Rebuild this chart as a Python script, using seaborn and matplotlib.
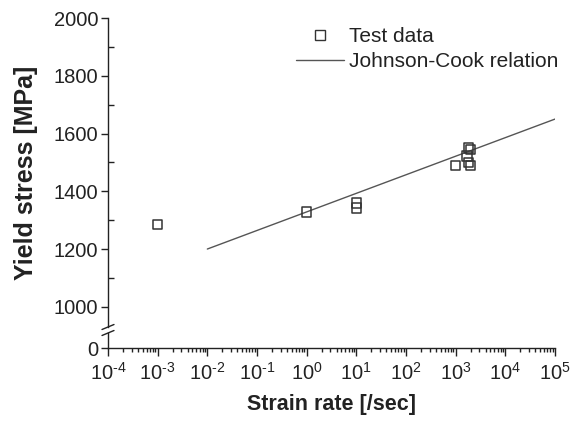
import matplotlib
matplotlib.use("Agg")
import matplotlib.pyplot as plt
import seaborn as sns
import pandas as pd
from matplotlib.lines import Line2D
from matplotlib.ticker import FixedLocator, LogLocator, NullFormatter

# test data
strain_rate = [1e-3, 1e0, 1e1, 1e1, 1e3, 1800, 2000, 1700, 1800, 2000]
yield_stress = [1285, 1328, 1360, 1342, 1490, 1550, 1545, 1522, 1500, 1490]

# Johnson-Cook fit line (straight on log axis)
jc_rate = [1e-2, 1e5]
jc_stress = [1200, 1650]

x_ticks = [1e-4, 1e-3, 1e-2, 1e-1, 1e0, 1e1, 1e2, 1e3, 1e4, 1e5]
x_labels = ["$10^{\\text{-}%d}$" % -p if p < 0 else "$10^{%d}$" % p for p in range(-4, 6)]
y_ticks = [1000, 1200, 1400, 1600, 1800, 2000]

df = pd.DataFrame({"rate": strain_rate, "stress": yield_stress})
jc = pd.DataFrame({"rate": jc_rate, "stress": jc_stress})

sns.set_style("ticks")
plt.rcParams["font.family"] = ["Liberation Sans", "DejaVu Sans"]
plt.rcParams["mathtext.fontset"] = "custom"
plt.rcParams["mathtext.rm"] = "Liberation Sans"
plt.rcParams["mathtext.it"] = "Liberation Sans"

ink = "#222222"
W, H = 581, 421
fig = plt.figure(figsize=(5.81, 4.21), dpi=100)

left = 108 / W
width = (555 - 108) / W
ax = fig.add_axes([left, (H - 327) / H, width, (327 - 18) / H])
axb = fig.add_axes([left, (H - 348) / H, width, (348 - 333) / H], sharex=ax)

sns.lineplot(data=jc, x="rate", y="stress", ax=ax, color="#555555", lw=1.0)
sns.scatterplot(data=df, x="rate", y="stress", ax=ax, marker="s", s=46,
                facecolor="none", edgecolor="#333333", linewidth=1.1, zorder=3)

ax.set_xscale("log")
ax.set_xlim(1e-4, 1e5)
ax.set_ylim(930, 2000)
axb.set_ylim(0, 52)

for a in (ax, axb):
    for s in a.spines.values():
        s.set_color(ink)
        s.set_linewidth(1.0)
    a.spines["right"].set_visible(False)
    a.spines["top"].set_visible(False)
ax.spines["bottom"].set_visible(False)

tick_fs = 14.5
ax.set_yticks(y_ticks)
ax.yaxis.set_minor_locator(FixedLocator([1100, 1300, 1500, 1700, 1900]))
ax.tick_params(axis="y", which="major", direction="out", length=5, width=1,
               color=ink, labelsize=tick_fs, labelcolor=ink, pad=2)
ax.tick_params(axis="y", which="minor", direction="in", length=4, width=1, color=ink)
ax.tick_params(axis="x", which="both", bottom=False, labelbottom=False)

axb.set_yticks([0])
axb.tick_params(axis="y", which="major", direction="out", length=5, width=1,
                color=ink, labelsize=tick_fs, labelcolor=ink, pad=2)
axb.set_xticks(x_ticks)
axb.set_xticklabels(x_labels)
axb.xaxis.set_minor_locator(LogLocator(base=10, subs=range(2, 10), numticks=20))
axb.xaxis.set_minor_formatter(NullFormatter())
axb.tick_params(axis="x", which="major", direction="out", length=6, width=1,
                color=ink, labelsize=tick_fs, labelcolor=ink, pad=4)
axb.tick_params(axis="x", which="minor", direction="out", length=3, width=1, color=ink)

ax.set_xlabel("")
ax.set_ylabel("Yield stress [MPa]", fontsize=18, fontweight="bold", color=ink, labelpad=11)
axb.set_ylabel("")
axb.set_xlabel("Strain rate [/sec]", fontsize=15.5, fontweight="bold", color=ink, labelpad=7)

# axis break marks
for yb in (327, 333):
    fig.add_artist(Line2D([102 / W, 114 / W], [(H - yb - 2.5) / H, (H - yb + 2.5) / H],
                          color=ink, lw=1.0, transform=fig.transFigure))

handles = [
    Line2D([], [], ls="none", marker="s", markersize=6.5, markerfacecolor="none",
           markeredgecolor="#333333", markeredgewidth=1.0),
    Line2D([], [], color="#555555", lw=1.0),
]
fig.legend(handles, ["Test data", "Johnson-Cook relation"], loc="upper left",
           bbox_to_anchor=(296 / W, 1 - 27 / H), frameon=False, fontsize=15,
           handlelength=2.3, handletextpad=0.25, labelspacing=0.3,
           borderpad=0, borderaxespad=0, labelcolor=ink)

fig.savefig("out.png", dpi=100)
